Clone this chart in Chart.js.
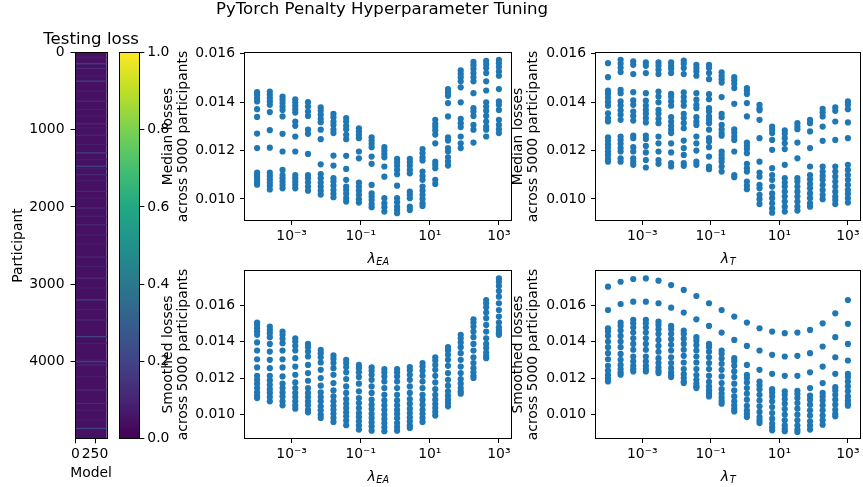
<!DOCTYPE html>
<html><head><meta charset="utf-8">
<script src="https://cdn.jsdelivr.net/npm/chart.js@4.4.1/dist/chart.umd.min.js"></script>
<style>
html,body{margin:0;padding:0;background:#fff;}
#wrap{position:relative;width:863px;height:487px;overflow:hidden;background:#fff;}
canvas{position:absolute;left:0;top:0;width:863px;height:487px;}
</style></head>
<body><div id="wrap">
<canvas id="cTitle" width="863" height="487"></canvas>
<canvas id="cHeat" width="863" height="487"></canvas>
<canvas id="cBar" width="863" height="487"></canvas>
<canvas id="cTL" width="863" height="487"></canvas>
<canvas id="cTR" width="863" height="487"></canvas>
<canvas id="cBL" width="863" height="487"></canvas>
<canvas id="cBR" width="863" height="487"></canvas>
</div>
<script>
// ---------------- DATA ----------------
const lambdas = [1.0e-4, 2.336e-4, 5.456e-4, 1.274e-3, 2.976e-3, 6.952e-3, 1.624e-2, 3.793e-2, 8.859e-2, 0.2069,
                 0.4833, 1.129, 2.637, 6.158, 14.38, 33.60, 78.48, 183.3, 428.1, 1000];

const medianByEA = [
 [0.01441,0.01430,0.01417,0.01403,0.01371,0.01339,0.01270,0.01210,0.01109,0.01099,0.01090,0.01079,0.01068,0.01059],
 [0.01444,0.01430,0.01417,0.01403,0.01389,0.01359,0.01284,0.01212,0.01109,0.01095,0.01081,0.01068,0.01054,0.01039],
 [0.01423,0.01410,0.01396,0.01382,0.01368,0.01341,0.01269,0.01196,0.01120,0.01099,0.01086,0.01072,0.01058,0.01044],
 [0.01412,0.01399,0.01385,0.01371,0.01357,0.01320,0.01302,0.01258,0.01196,0.01099,0.01086,0.01072,0.01058,0.01044],
 [0.01400,0.01382,0.01361,0.01343,0.01286,0.01269,0.01186,0.01099,0.01086,0.01069,0.01051,0.01034],
 [0.01378,0.01364,0.01348,0.01331,0.01317,0.01286,0.01247,0.01143,0.01103,0.01086,0.01068,0.01051,0.01034,0.01018],
 [0.01352,0.01338,0.01320,0.01306,0.01286,0.01272,0.01179,0.01138,0.01086,0.01072,0.01055,0.01037,0.01021,0.01007],
 [0.01334,0.01320,0.01302,0.01288,0.01265,0.01247,0.01178,0.01124,0.01079,0.01051,0.01037,0.01021,0.01003,0.00989],
 [0.01292,0.01279,0.01265,0.01251,0.01196,0.01168,0.01068,0.01051,0.01034,0.01017,0.00999,0.00985],
 [0.01255,0.01241,0.01228,0.01214,0.01175,0.01145,0.01058,0.01023,0.01010,0.00996,0.00979,0.00966],
 [0.01214,0.01200,0.01186,0.01172,0.01134,0.01092,0.01003,0.00982,0.00966,0.00948],
 [0.01166,0.01152,0.01137,0.01120,0.01102,0.01055,0.01003,0.00986,0.00968,0.00954,0.00941],
 [0.01166,0.01152,0.01137,0.01120,0.01106,0.01030,0.01017,0.01003,0.00968,0.00954],
 [0.01206,0.01189,0.01172,0.01159,0.01113,0.01095,0.01079,0.01051,0.01034,0.01017,0.01000,0.00982,0.00971],
 [0.01327,0.01310,0.01297,0.01283,0.01266,0.01230,0.01154,0.01141,0.01127,0.01079,0.01062],
 [0.01454,0.01440,0.01426,0.01396,0.01341,0.01255,0.01241,0.01210,0.01196,0.01172,0.01154,0.01138],
 [0.01531,0.01517,0.01503,0.01486,0.01461,0.01399,0.01331,0.01313,0.01297,0.01258,0.01230,0.01210],
 [0.01566,0.01552,0.01537,0.01520,0.01503,0.01486,0.01437,0.01375,0.01361,0.01343,0.01306,0.01286,0.01233],
 [0.01571,0.01557,0.01541,0.01520,0.01486,0.01448,0.01399,0.01382,0.01364,0.01343,0.01320,0.01299,0.01286,0.01258],
 [0.01575,0.01561,0.01545,0.01527,0.01509,0.01454,0.01403,0.01389,0.01368,0.01327,0.01306,0.01288,0.01272]
];

const medianByT = [
 [0.01561,0.01503,0.01448,0.01434,0.01418,0.01401,0.01385,0.01354,0.01334,0.01320,0.01255,0.01241,0.01226,0.01212,0.01196,0.01182,0.01166,0.01154],
 [0.01575,0.01559,0.01542,0.01524,0.01451,0.01437,0.01403,0.01386,0.01366,0.01348,0.01327,0.01258,0.01244,0.01228,0.01210,0.01196,0.01168,0.01154],
 [0.01568,0.01554,0.01516,0.01441,0.01407,0.01389,0.01361,0.01343,0.01324,0.01262,0.01251,0.01214,0.01196,0.01168,0.01154,0.01141],
 [0.01564,0.01550,0.01520,0.01437,0.01406,0.01386,0.01368,0.01352,0.01334,0.01316,0.01262,0.01248,0.01219,0.01192,0.01161,0.01130],
 [0.01564,0.01550,0.01534,0.01516,0.01444,0.01423,0.01399,0.01368,0.01352,0.01331,0.01313,0.01258,0.01230,0.01196,0.01161,0.01145],
 [0.01564,0.01550,0.01537,0.01520,0.01434,0.01421,0.01403,0.01385,0.01338,0.01320,0.01302,0.01286,0.01272,0.01230,0.01192,0.01148,0.01134],
 [0.01572,0.01559,0.01541,0.01516,0.01440,0.01421,0.01403,0.01385,0.01352,0.01334,0.01313,0.01292,0.01241,0.01210,0.01182,0.01148,0.01137],
 [0.01554,0.01541,0.01527,0.01509,0.01437,0.01410,0.01389,0.01375,0.01338,0.01320,0.01306,0.01258,0.01230,0.01200,0.01154,0.01141],
 [0.01554,0.01541,0.01520,0.01495,0.01433,0.01412,0.01375,0.01361,0.01341,0.01327,0.01313,0.01286,0.01251,0.01237,0.01214,0.01175,0.01134,0.01123],
 [0.01523,0.01509,0.01495,0.01481,0.01421,0.01352,0.01338,0.01306,0.01288,0.01272,0.01261,0.01196,0.01182,0.01168,0.01154,0.01134,0.01113],
 [0.01503,0.01490,0.01476,0.01458,0.01393,0.01288,0.01274,0.01258,0.01244,0.01196,0.01099,0.01090],
 [0.01458,0.01448,0.01434,0.01396,0.01341,0.01233,0.01219,0.01206,0.01189,0.01145,0.01127,0.01113,0.01072,0.01055,0.01040],
 [0.01389,0.01375,0.01366,0.01327,0.01251,0.01154,0.01109,0.01092,0.01058,0.01044,0.01017,0.00999,0.00979],
 [0.01299,0.01286,0.01272,0.01244,0.01203,0.01127,0.01099,0.01079,0.01051,0.01023,0.01003,0.00982,0.00961,0.00943],
 [0.01283,0.01269,0.01251,0.01230,0.01206,0.01141,0.01086,0.01068,0.01051,0.01030,0.01010,0.00989,0.00968,0.00948],
 [0.01313,0.01299,0.01288,0.01233,0.01168,0.01086,0.01072,0.01051,0.01030,0.01010,0.00989,0.00968,0.00952],
 [0.01327,0.01313,0.01279,0.01210,0.01134,0.01099,0.01081,0.01062,0.01044,0.01023,0.01003,0.00982,0.00968],
 [0.01372,0.01357,0.01341,0.01299,0.01240,0.01134,0.01113,0.01095,0.01079,0.01058,0.01037,0.01017,0.00999],
 [0.01378,0.01364,0.01320,0.01244,0.01134,0.01113,0.01092,0.01072,0.01051,0.01030,0.01010,0.00996,0.00979],
 [0.01403,0.01389,0.01371,0.01316,0.01251,0.01141,0.01120,0.01099,0.01079,0.01058,0.01037,0.01021,0.01003,0.00985]
];

const smoothByEA = [
 [0.01505,0.01492,0.01474,0.01456,0.01438,0.01396,0.01352,0.01304,0.01259,0.01213,0.01191,0.01170,0.01146,0.01122,0.01104,0.01091],
 [0.01483,0.01465,0.01447,0.01425,0.01388,0.01346,0.01301,0.01255,0.01213,0.01188,0.01164,0.01140,0.01119,0.01097,0.01073],
 [0.01456,0.01438,0.01416,0.01392,0.01352,0.01304,0.01259,0.01210,0.01170,0.01146,0.01122,0.01100,0.01073,0.01051],
 [0.01419,0.01401,0.01377,0.01352,0.01310,0.01264,0.01219,0.01177,0.01146,0.01119,0.01097,0.01073,0.01051,0.01033],
 [0.01388,0.01370,0.01346,0.01319,0.01273,0.01228,0.01186,0.01146,0.01119,0.01097,0.01073,0.01051,0.01027,0.01013],
 [0.01356,0.01337,0.01315,0.01286,0.01246,0.01201,0.01159,0.01122,0.01097,0.01073,0.01046,0.01024,0.01000,0.00982],
 [0.01325,0.01306,0.01283,0.01255,0.01219,0.01173,0.01133,0.01100,0.01073,0.01049,0.01027,0.01005,0.00982,0.00960],
 [0.01301,0.01283,0.01261,0.01232,0.01195,0.01155,0.01119,0.01086,0.01060,0.01036,0.01013,0.00991,0.00967,0.00942],
 [0.01273,0.01255,0.01232,0.01206,0.01170,0.01128,0.01091,0.01064,0.01036,0.01009,0.00987,0.00964,0.00940,0.00918],
 [0.01259,0.01241,0.01219,0.01191,0.01155,0.01119,0.01082,0.01055,0.01031,0.01005,0.00982,0.00958,0.00936,0.00912],
 [0.01250,0.01232,0.01210,0.01182,0.01146,0.01109,0.01078,0.01051,0.01027,0.01000,0.00976,0.00954,0.00931,0.00909],
 [0.01250,0.01232,0.01210,0.01182,0.01146,0.01109,0.01078,0.01051,0.01027,0.01004,0.00980,0.00954,0.00933,0.00912],
 [0.01261,0.01243,0.01219,0.01191,0.01155,0.01119,0.01086,0.01060,0.01033,0.01009,0.00985,0.00964,0.00942,0.00927],
 [0.01283,0.01264,0.01241,0.01213,0.01182,0.01146,0.01109,0.01082,0.01055,0.01027,0.01005,0.00982,0.00960],
 [0.01315,0.01297,0.01273,0.01246,0.01213,0.01177,0.01140,0.01109,0.01082,0.01058,0.01036,0.01015,0.00995],
 [0.01370,0.01352,0.01328,0.01301,0.01268,0.01228,0.01191,0.01159,0.01128,0.01104,0.01082,0.01064,0.01046],
 [0.01438,0.01419,0.01396,0.01370,0.01337,0.01301,0.01264,0.01228,0.01195,0.01170,0.01146,0.01128,0.01115],
 [0.01523,0.01505,0.01483,0.01456,0.01425,0.01388,0.01352,0.01315,0.01283,0.01255,0.01232,0.01213,0.01201],
 [0.01629,0.01611,0.01589,0.01560,0.01529,0.01492,0.01456,0.01419,0.01388,0.01365,0.01341,0.01323,0.01310],
 [0.01747,0.01729,0.01706,0.01678,0.01647,0.01611,0.01574,0.01538,0.01505,0.01479,0.01461,0.01447,0.01438]
];

const smoothByT = [
 [0.01702,0.01574,0.01474,0.01456,0.01432,0.01401,0.01370,0.01337,0.01304,0.01268,0.01242,0.01219,0.01201,0.01182],
 [0.01729,0.01607,0.01505,0.01487,0.01461,0.01432,0.01401,0.01370,0.01333,0.01301,0.01273,0.01250,0.01232,0.01219],
 [0.01744,0.01620,0.01520,0.01501,0.01478,0.01450,0.01419,0.01388,0.01356,0.01319,0.01292,0.01268,0.01250,0.01237],
 [0.01747,0.01620,0.01520,0.01501,0.01478,0.01450,0.01419,0.01388,0.01356,0.01319,0.01292,0.01268,0.01250,0.01237],
 [0.01735,0.01611,0.01510,0.01492,0.01469,0.01443,0.01410,0.01377,0.01345,0.01310,0.01283,0.01259,0.01241,0.01228],
 [0.01711,0.01587,0.01487,0.01469,0.01443,0.01414,0.01383,0.01352,0.01315,0.01283,0.01255,0.01232,0.01215,0.01206],
 [0.01684,0.01560,0.01461,0.01443,0.01417,0.01388,0.01356,0.01323,0.01286,0.01250,0.01222,0.01201,0.01182,0.01173],
 [0.01651,0.01523,0.01425,0.01406,0.01381,0.01352,0.01319,0.01286,0.01250,0.01217,0.01191,0.01170,0.01155,0.01146],
 [0.01611,0.01487,0.01388,0.01370,0.01345,0.01315,0.01283,0.01250,0.01213,0.01180,0.01155,0.01133,0.01115,0.01100],
 [0.01574,0.01450,0.01352,0.01334,0.01308,0.01279,0.01246,0.01210,0.01173,0.01140,0.01115,0.01093,0.01075,0.01060],
 [0.01538,0.01410,0.01310,0.01292,0.01268,0.01237,0.01206,0.01170,0.01133,0.01100,0.01073,0.01051,0.01033,0.01018],
 [0.01505,0.01377,0.01273,0.01219,0.01201,0.01177,0.01146,0.01115,0.01082,0.01049,0.01024,0.01004,0.00987],
 [0.01474,0.01352,0.01246,0.01182,0.01162,0.01140,0.01109,0.01078,0.01046,0.01015,0.00987,0.00969,0.00954],
 [0.01456,0.01328,0.01224,0.01140,0.01122,0.01100,0.01073,0.01042,0.01009,0.00978,0.00951,0.00931,0.00914],
 [0.01447,0.01319,0.01213,0.01128,0.01109,0.01086,0.01060,0.01031,0.01000,0.00969,0.00942,0.00922,0.00909],
 [0.01450,0.01323,0.01213,0.01131,0.01113,0.01091,0.01064,0.01033,0.01000,0.00969,0.00940,0.00918,0.00905],
 [0.01465,0.01337,0.01232,0.01146,0.01104,0.01082,0.01055,0.01024,0.00995,0.00964,0.00940,0.00918],
 [0.01501,0.01374,0.01264,0.01173,0.01119,0.01100,0.01078,0.01051,0.01024,0.00995,0.00969,0.00945],
 [0.01556,0.01425,0.01315,0.01224,0.01151,0.01133,0.01109,0.01082,0.01055,0.01027,0.01005,0.00991],
 [0.01629,0.01498,0.01388,0.01297,0.01224,0.01206,0.01182,0.01155,0.01128,0.01100,0.01078,0.01060,0.01049]
];

// heatmap: participant rows that stand out from the dark background, [participant, scaled loss]
const heatBase = 0.045;
const heatRows = [
 [60,0.08],[143,0.2],[204,0.12],[300,0.08],[368,0.2],[498,0.08],[628,0.12],[736,0.08],[820,0.08],[922,0.12],
 [974,0.08],[1069,0.12],[1191,0.08],[1299,0.2],[1386,0.08],[1472,0.2],[1503,0.08],[1581,0.12],[1659,0.08],[1797,0.12],
 [1884,0.08],[2014,0.12],[2122,0.08],[2231,0.12],[2361,0.08],[2480,0.08],[2650,0.12],[2771,0.08],[2923,0.12],[3050,0.08],
 [3205,0.2],[3330,0.08],[3465,0.12],[3681,0.2],[3768,0.08],[3985,0.08],[4006,0.2],[4050,0.12],[4201,0.08],[4375,0.12],
 [4548,0.12],[4635,0.08],[4760,0.08],[4872,0.2]
];

const xTickVals = [1e-3, 1e-1, 1e1, 1e3];
const xTickLabels = ['10\u207B\u00B3', '10\u207B\u00B9', '10\u00B9', '10\u00B3'];
const yTickVals = [0.010, 0.012, 0.014, 0.016];
const heatXTicks = [0, 250];
const heatYTicks = [0, 1000, 2000, 3000, 4000];
const cbarTicks = [0.0, 0.2, 0.4, 0.6, 0.8, 1.0];
const viridisStops = ['#440154','#482475','#414487','#355f8d','#2a788e','#21918c','#22a884','#44bf70','#7ad151','#bddf26','#fde725'];

// ---------------- RENDERING ----------------
const W = 863, H = 487;
const FONT = 'DejaVu Sans';
Chart.defaults.font.family = FONT;
Chart.defaults.font.size = 13.9;
Chart.defaults.color = '#000';
Chart.defaults.animation = false;

function hexRgb(h){ return [parseInt(h.slice(1,3),16),parseInt(h.slice(3,5),16),parseInt(h.slice(5,7),16)]; }
function viridis(t){
  t = Math.max(0, Math.min(1, t));
  const n = viridisStops.length - 1;
  const f = t * n, i = Math.min(Math.floor(f), n - 1), u = f - i;
  const a = hexRgb(viridisStops[i]), b = hexRgb(viridisStops[i+1]);
  return 'rgb(' + a.map((c,k)=>Math.round(c + (b[k]-c)*u)).join(',') + ')';
}

const framePlugin = {
  id: 'frame',
  afterDatasetsDraw(chart){
    const {left, top, right, bottom} = chart.chartArea;
    const ctx = chart.ctx;
    ctx.save();
    ctx.strokeStyle = '#000'; ctx.lineWidth = 1;
    const l = Math.round(left) - 0.5, t = Math.round(top) - 0.5;
    ctx.strokeRect(l, t, Math.round(right) - Math.round(left) + 1, Math.round(bottom) - Math.round(top) + 1);
    ctx.restore();
  }
};

const lambdaLabel = {
  id: 'lambdaLabel',
  afterDraw(chart, args, opts){
    if (!opts || !opts.main) return;
    const ctx = chart.ctx, ca = chart.chartArea;
    const f1 = 'italic 14px "' + FONT + '"', f2 = 'italic 9.7px "' + FONT + '"';
    ctx.save();
    ctx.font = f1; const w1 = ctx.measureText(opts.main).width;
    ctx.font = f2; const w2 = ctx.measureText(opts.sub).width;
    const x0 = (ca.left + ca.right) / 2 - (w1 + w2) / 2;
    const base = ca.bottom + opts.offset;
    ctx.fillStyle = '#000'; ctx.textAlign = 'left'; ctx.textBaseline = 'alphabetic';
    ctx.font = f1; ctx.fillText(opts.main, x0, base);
    ctx.font = f2; ctx.fillText(opts.sub, x0 + w1 + 0.5, base + 2);
    ctx.restore();
  }
};

// axes title above and plain x label below (drawn without width squeezing)
const axTexts = {
  id: 'axTexts',
  afterDraw(chart, args, opts){
    if (!opts) return;
    const ctx = chart.ctx, ca = chart.chartArea, cx = (ca.left + ca.right) / 2;
    ctx.save();
    ctx.fillStyle = '#000'; ctx.textAlign = 'center'; ctx.textBaseline = 'alphabetic';
    if (opts.title) { ctx.font = '16.6px "' + FONT + '"'; ctx.fillText(opts.title, cx, ca.top - opts.titleGap); }
    if (opts.xlabel) { ctx.font = '13.9px "' + FONT + '"'; ctx.fillText(opts.xlabel, cx, ca.bottom + opts.xlabelGap); }
    ctx.restore();
  }
};

const heatPlugin = {
  id: 'heat',
  beforeDatasetsDraw(chart){
    const {ctx} = chart; const x = chart.scales.x, y = chart.scales.y;
    const x0 = x.getPixelForValue(x.min), x1 = x.getPixelForValue(x.max);
    const y0 = y.getPixelForValue(y.min), y1 = y.getPixelForValue(y.max);
    ctx.save();
    ctx.fillStyle = viridis(heatBase);
    ctx.fillRect(x0, Math.min(y0,y1), x1 - x0, Math.abs(y1 - y0));
    heatRows.forEach(([p, v]) => {
      const ya = y.getPixelForValue(p - 0.5), yb = y.getPixelForValue(p + 0.5);
      const h = Math.max(1.2, Math.abs(yb - ya));
      ctx.fillStyle = viridis(v);
      ctx.fillRect(x0, (ya + yb) / 2 - h / 2, x1 - x0, h);
    });
    ctx.restore();
  }
};

const gradPlugin = {
  id: 'grad',
  beforeDatasetsDraw(chart){
    const {ctx, chartArea: ca} = chart; const y = chart.scales.y;
    const yb = y.getPixelForValue(0), yt = y.getPixelForValue(1);
    const g = ctx.createLinearGradient(0, yb, 0, yt);
    viridisStops.forEach((c, i) => g.addColorStop(i / (viridisStops.length - 1), c));
    ctx.save(); ctx.fillStyle = g;
    ctx.fillRect(ca.left, yt, ca.right - ca.left, yb - yt);
    ctx.restore();
  }
};

const tickGrid = {drawOnChartArea: false, drawTicks: true, tickLength: 5, tickColor: '#000', tickWidth: 1};
const noEvents = {responsive: false, devicePixelRatio: 1, animation: false, events: []};

// suptitle
new Chart(document.getElementById('cTitle'), {
  type: 'scatter', data: {datasets: []},
  options: Object.assign({}, noEvents, {
    layout: {padding: {left: 0, right: 99, top: 0, bottom: 0}},
    scales: {x: {display: false}, y: {display: false}},
    plugins: {legend: {display: false}, tooltip: {enabled: false},
      title: {display: true, text: 'PyTorch Penalty Hyperparameter Tuning', color: '#000',
              font: {size: 16.6, weight: 'normal', lineHeight: 1.2}, padding: {top: 0, bottom: 0}}}
  })
});

// heatmap
const HA = {left: 75.5, right: 106.7, top: 52.7, bottom: 438.3, titleLeft: 9.65, xH: 42};
new Chart(document.getElementById('cHeat'), {
  type: 'scatter', data: {datasets: []},
  options: Object.assign({}, noEvents, {
    layout: {padding: {left: HA.titleLeft, right: W - HA.right, top: HA.top, bottom: H - HA.bottom - HA.xH}},
    plugins: {legend: {display: false}, tooltip: {enabled: false},
              axTexts: {title: 'Testing loss', titleGap: 8.3, xlabel: 'Model', xlabelGap: 38.5}},
    scales: {
      x: {type: 'linear', min: -0.5, max: 399.5,
          afterBuildTicks: s => { s.ticks = heatXTicks.map(v => ({value: v})); },
          afterFit: s => { s.height = HA.xH; s.paddingLeft = 0; s.paddingRight = 0; },
          ticks: {callback: v => String(v), autoSkip: false, maxRotation: 0, padding: 3},
          grid: tickGrid, border: {display: false}},
      y: {type: 'linear', reverse: true, min: -0.5, max: 4999.5,
          afterBuildTicks: s => { s.ticks = heatYTicks.map(v => ({value: v})); },
          afterFit: s => { s.width = HA.left - HA.titleLeft; s.paddingTop = 0; s.paddingBottom = 0; },
          ticks: {callback: v => String(v), autoSkip: false, padding: 6},
          grid: tickGrid, border: {display: false},
          title: {display: true, text: 'Participant', padding: 0, font: {size: 13.9, lineHeight: 1.2}}}
    }
  }),
  plugins: [heatPlugin, framePlugin, axTexts]
});

// colorbar
const CB = {left: 120, right: 139.3, top: 52.7, bottom: 438.3, yW: 45};
new Chart(document.getElementById('cBar'), {
  type: 'scatter', data: {datasets: []},
  options: Object.assign({}, noEvents, {
    layout: {padding: {left: CB.left, right: W - CB.right - CB.yW, top: CB.top, bottom: H - CB.bottom}},
    plugins: {legend: {display: false}, tooltip: {enabled: false}},
    scales: {
      x: {display: false, min: 0, max: 1},
      y: {position: 'right', min: 0, max: 1,
          afterBuildTicks: s => { s.ticks = cbarTicks.map(v => ({value: v})); },
          afterFit: s => { s.width = CB.yW; s.paddingTop = 0; s.paddingBottom = 0; },
          ticks: {callback: v => Number(v).toFixed(1), autoSkip: false, padding: 3},
          grid: tickGrid, border: {display: false}}
    }
  }),
  plugins: [gradPlugin, framePlugin]
});

// scatter panels
const xLim = [4.467e-5, 2239];
const yLimTop = [0.00913, 0.01603];
const yLimBottom = [0.00872, 0.01788];

function scatterPanel(id, cols, yTitle, yLim, area, sub){
  const pts = [];
  cols.forEach((col, i) => col.forEach(v => pts.push({x: lambdas[i], y: v})));
  const xH = 40;
  return new Chart(document.getElementById(id), {
    type: 'scatter',
    data: {datasets: [{data: pts, pointBackgroundColor: '#1f77b4', backgroundColor: '#1f77b4',
                       pointBorderWidth: 0, borderWidth: 0, pointRadius: 3.1, pointHoverRadius: 3.1}]},
    options: Object.assign({}, noEvents, {
      layout: {padding: {left: area.titleLeft, right: W - area.right, top: area.top, bottom: H - area.bottom - xH}},
      plugins: {legend: {display: false}, tooltip: {enabled: false},
                lambdaLabel: {main: '\u03BB', sub: sub, offset: 42.5}},
      scales: {
        x: {type: 'logarithmic', min: xLim[0], max: xLim[1],
            afterBuildTicks: s => { s.ticks = xTickVals.map(v => ({value: v})); },
            afterFit: s => { s.height = xH; s.paddingLeft = 0; s.paddingRight = 0; },
            ticks: {callback: (v, i) => xTickLabels[i], autoSkip: false, maxRotation: 0, padding: 3},
            grid: tickGrid, border: {display: false}},
        y: {type: 'linear', min: yLim[0], max: yLim[1],
            afterBuildTicks: s => { s.ticks = yTickVals.map(v => ({value: v})); },
            afterFit: s => { s.width = area.left - area.titleLeft; s.paddingTop = 0; s.paddingBottom = 0; },
            ticks: {callback: v => Number(v).toFixed(3), autoSkip: false, padding: 5},
            grid: tickGrid, border: {display: false},
            title: {display: true, text: yTitle, padding: 0, font: {size: 13.9, lineHeight: 1.1}}}
      }
    }),
    plugins: [framePlugin, lambdaLabel]
  });
}

scatterPanel('cTL', medianByEA, ['Median losses', 'across 5000 participants'], yLimTop,
  {left: 245, right: 511, top: 53, bottom: 220, titleLeft: 160.65}, 'EA');
scatterPanel('cTR', medianByT, ['Median losses', 'across 5000 participants'], yLimTop,
  {left: 596, right: 862, top: 53, bottom: 220, titleLeft: 510.65}, 'T');
scatterPanel('cBL', smoothByEA, ['Smoothed losses', 'across 5000 participants'], yLimBottom,
  {left: 245, right: 511, top: 271, bottom: 438, titleLeft: 160.65}, 'EA');
scatterPanel('cBR', smoothByT, ['Smoothed losses', 'across 5000 participants'], yLimBottom,
  {left: 596, right: 862, top: 271, bottom: 438, titleLeft: 510.65}, 'T');
</script>
</body></html>
